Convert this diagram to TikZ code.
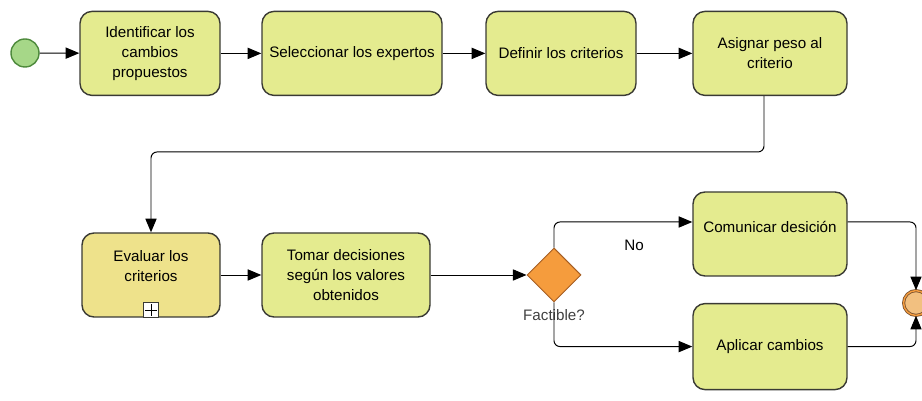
\documentclass[tikz,border=0pt]{standalone}
\usepackage{fontspec}
\setmainfont{Liberation Sans}
\usetikzlibrary{shapes.geometric,arrows.meta}
\definecolor{colortarea}{HTML}{E4EB8F}
\definecolor{colorsub}{HTML}{EEE28B}
\definecolor{borde}{HTML}{3A3A34}
\definecolor{inicioverde}{HTML}{A6D788}
\definecolor{inicioborde}{HTML}{4E8A3C}
\definecolor{naranja}{HTML}{F59C3D}
\definecolor{naranjaborde}{HTML}{A65E24}
\definecolor{finrelleno}{HTML}{F2C080}
\definecolor{finborde}{HTML}{7A5230}
\begin{document}
\begin{tikzpicture}[
    >={Triangle[length=0.34cm,width=0.28cm]},
    tarea/.style={draw=borde, fill=colortarea, line width=1pt, rounded corners=0.3cm,
        align=center, font=\fontsize{10.8}{14.2}\selectfont, minimum height=2.1cm, inner sep=2pt},
    flujo/.style={->, line width=0.7pt, rounded corners=0.15cm}]
    \useasboundingbox (0,0) rectangle (23.05,10.025);

    % Eventos
    \node[circle, draw=inicioborde, fill=inicioverde, line width=1pt, minimum size=0.7cm] (inicio) at (0.625,8.7) {};
    \node[circle, draw=finborde, double=naranja, double distance=1pt, fill=finrelleno, line width=0.6pt, minimum size=0.62cm] (fin) at (22.9,2.45) {};

    % Tareas, fila de arriba
    \node[tarea, minimum width=3.5cm] (identificar) at (3.75,8.69) {Identificar los\\cambios\\propuestos};
    \node[tarea, minimum width=4.5cm] (seleccionar) at (8.8,8.69) {Seleccionar los expertos};
    \node[tarea, minimum width=3.75cm] (definir) at (14.025,8.69) {Definir los criterios};
    \node[tarea, minimum width=3.85cm] (asignar) at (19.25,8.69) {Asignar peso al\\criterio};

    % Tareas, fila de abajo
    \node[tarea, fill=colorsub, minimum width=3.45cm] (evaluar) at (3.775,3.15) {Evaluar los\\criterios\\[-2pt]};
    \node[draw=borde, fill=white, line width=0.7pt, minimum size=0.36cm, inner sep=0pt, anchor=south] (marca) at (evaluar.south) {};
    \draw[line width=0.7pt, shorten <=1.3pt, shorten >=1.3pt] (marca.north) -- (marca.south);
    \draw[line width=0.7pt, shorten <=1.3pt, shorten >=1.3pt] (marca.west) -- (marca.east);
    \node[tarea, minimum width=4.2cm] (tomar) at (8.65,3.15) {Tomar decisiones\\según los valores\\obtenidos};

    % Compuerta
    \node[diamond, draw=naranjaborde, fill=naranja, line width=0.7pt, minimum size=1.35cm, inner sep=0pt] (factible) at (13.85,3.15) {};
    \node[font=\fontsize{10.8}{12}\selectfont, text=black!75] (pregunta) at (13.85,2.15) {Factible?};
    \node[font=\fontsize{10.8}{12}\selectfont] (no) at (15.85,3.9) {No};

    \node[tarea, minimum width=3.85cm] (comunicar) at (19.25,4.175) {Comunicar desición\\[-4pt]};
    \node[tarea, minimum width=3.85cm, minimum height=2.15cm] (aplicar) at (19.25,1.36) {Aplicar cambios};

    % Flujos
    \draw[flujo] (inicio) -- (identificar);
    \draw[flujo] (identificar) -- (seleccionar);
    \draw[flujo] (seleccionar) -- (definir);
    \draw[flujo] (definir) -- (asignar);
    \draw[flujo] ([xshift=-0.15cm]asignar.south) |- (3.775,6.225) -- (evaluar.north);
    \draw[flujo] (evaluar) -- (tomar);
    \draw[flujo] (tomar) -- (factible.west);
    \draw[flujo] (factible.north) |- ([yshift=0.3cm]comunicar.west);
    \draw[flujo] (factible.south) |- (aplicar.west);
    \draw[flujo] ([yshift=0.3cm]comunicar.east) -| (fin.north);
    \draw[flujo] (aplicar.east) -| (fin.south);
\end{tikzpicture}
\end{document}
